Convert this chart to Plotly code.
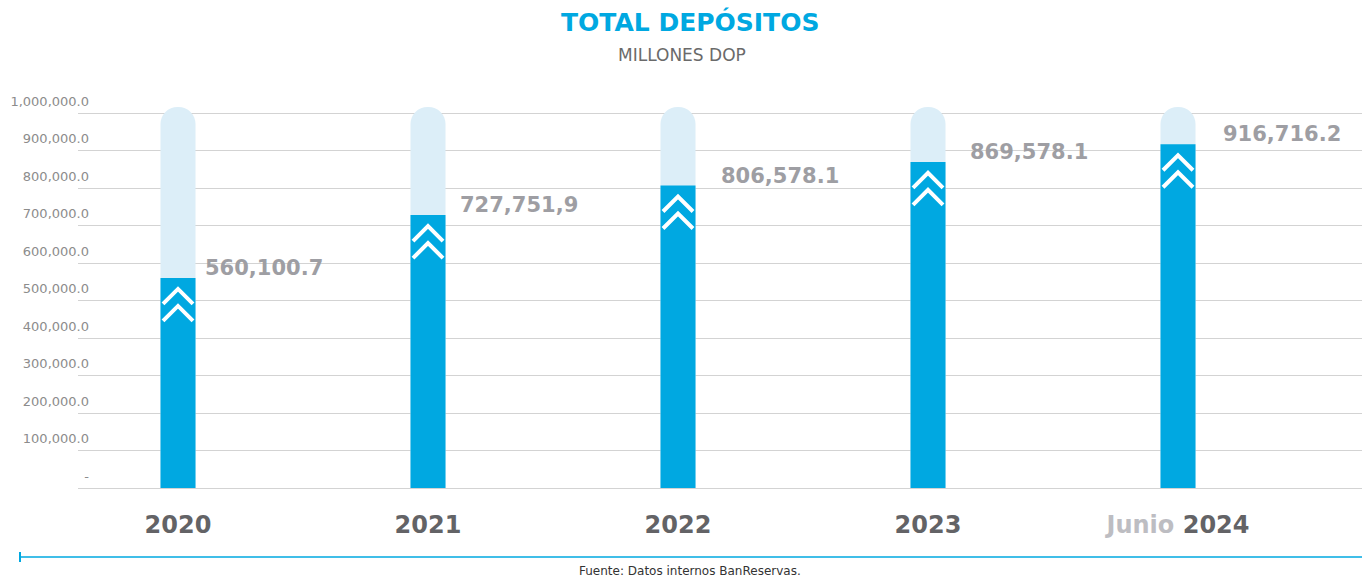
import plotly.graph_objects as go

# ---- data ----
years = ["2020", "2021", "2022", "2023", "2024"]
tick_labels = ["2020", "2021", "2022", "2023",
               "<span style='color:#BDBDC2'>Junio</span> 2024"]
deposits = [560100.7, 727751.9, 806578.1, 869578.1, 916716.2]
value_labels = ["560,100.7", "727,751,9", "806,578.1", "869,578.1", "916,716.2"]
y_tick_vals = [0, 100000, 200000, 300000, 400000, 500000, 600000, 700000, 800000, 900000, 1000000]
y_tick_text = ["-", "100,000.0", "200,000.0", "300,000.0", "400,000.0", "500,000.0",
               "600,000.0", "700,000.0", "800,000.0", "900,000.0", "1,000,000.0"]
track_max = 1016000  # background capsule height

BLUE = "#00A8E1"
LIGHT = "#DCEEF8"
FONT = "DejaVu Sans"

x = list(range(len(years)))
bar_w = 0.14

fig = go.Figure()

# background capsules
fig.add_trace(go.Bar(x=x, y=[track_max] * len(x), width=bar_w,
                     marker=dict(color=LIGHT, cornerradius="50%", line=dict(width=0)),
                     hoverinfo="skip", showlegend=False))
# value bars
fig.add_trace(go.Bar(x=x, y=deposits, width=bar_w,
                     marker=dict(color=BLUE, line=dict(width=0)),
                     showlegend=False))

# chevrons (double, white) below each bar top
y_per_px = 1040000 / 390.0
dx = 0.06
cx, cy = [], []
for xi, v in zip(x, deposits):
    for k in range(2):
        apex = v - (11 + 17 * k) * y_per_px
        arm = apex - 15 * y_per_px
        cx += [xi - dx, xi, xi + dx, None]
        cy += [arm, apex, arm, None]
fig.add_trace(go.Scatter(x=cx, y=cy, mode="lines",
                         line=dict(color="white", width=4),
                         hoverinfo="skip", showlegend=False))

# value labels
x_shifts = [25, 30, 41, 40, 43]
annotations = []
for xi, v, lab, xs in zip(x, deposits, value_labels, x_shifts):
    annotations.append(dict(x=xi, y=v, text=lab, showarrow=False,
                            xanchor="left", yanchor="middle", xshift=xs, yshift=10,
                            font=dict(family=FONT, size=21, color="#9E9EA3", weight="bold")))

# titles
annotations.append(dict(xref="paper", yref="paper", x=(690 - 78) / 1284, y=1,
                        yshift=76, text="<b>TOTAL DEPÓSITOS</b>", showarrow=False,
                        xanchor="center", yanchor="middle",
                        font=dict(family=FONT, size=25, color=BLUE)))
annotations.append(dict(xref="paper", yref="paper", x=(682 - 78) / 1284, y=1,
                        yshift=43, text="MILLONES DOP", showarrow=False,
                        xanchor="center", yanchor="middle",
                        font=dict(family=FONT, size=17, color="#6A6A6A")))
annotations.append(dict(xref="paper", yref="paper", x=(690 - 78) / 1284, y=0,
                        yshift=-83, text="Fuente: Datos internos BanReservas.", showarrow=False,
                        xanchor="center", yanchor="middle",
                        font=dict(family=FONT, size=12, color="#333333")))

shapes = [
    dict(type="line", xref="paper", yref="paper", xsizemode="pixel", ysizemode="pixel",
         xanchor=0, yanchor=0, x0=-58, x1=1290, y0=-69, y1=-69,
         line=dict(color=BLUE, width=1.5)),
    dict(type="line", xref="paper", yref="paper", xsizemode="pixel", ysizemode="pixel",
         xanchor=0, yanchor=0, x0=-58, x1=-58, y0=-74, y1=-64,
         line=dict(color=BLUE, width=2)),
]

fig.update_layout(
    width=1362, height=579,
    margin=dict(l=78, r=0, t=98, b=91),
    paper_bgcolor="white", plot_bgcolor="white",
    barmode="overlay",
    annotations=annotations, shapes=shapes,
    xaxis=dict(range=[-0.4, 4.736], tickvals=x, ticktext=tick_labels,
               showgrid=False, zeroline=False, showline=False, ticks="",
               tickfont=dict(family=FONT, size=24, color="#636366", weight="bold"),
               ticklabelstandoff=20),
    yaxis=dict(range=[0, 1040000], tickvals=y_tick_vals, ticktext=y_tick_text,
               showgrid=True, gridcolor="#D3D3D3", gridwidth=1,
               zeroline=True, zerolinecolor="#D3D3D3", zerolinewidth=1,
               showline=False, ticks="",
               tickfont=dict(family=FONT, size=13, color="#8C8C8C"),
               ticklabelshift=-12, ticklabelstandoff=-12),
    font=dict(family=FONT),
)

fig.write_html("out.html", config={"displayModeBar": False},
               post_script="document.body.style.margin='0';document.body.style.overflow='hidden';")
